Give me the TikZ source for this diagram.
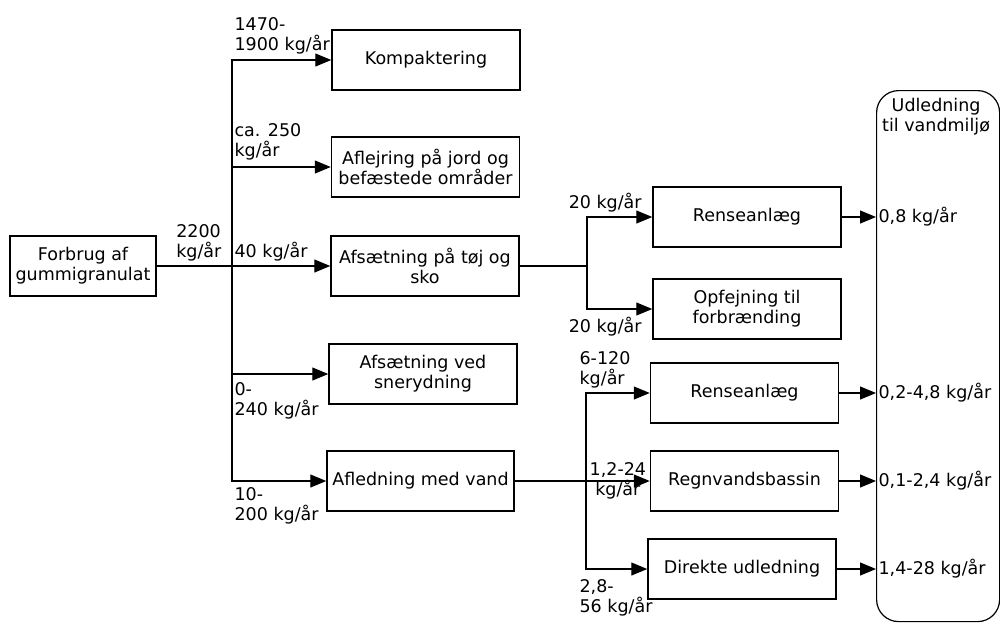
\documentclass[tikz,border=0pt]{standalone}
\usepackage{fontspec}
\setmainfont{DejaVu Sans}
\usetikzlibrary{arrows.meta, calc}

\begin{document}
\begin{tikzpicture}[x=1pt, y=-1pt,
  font=\fontsize{17.5}{20}\selectfont,
  box/.style={draw, line width=1.5pt, minimum width=188pt, minimum height=60pt, align=center, inner sep=2pt},
  line/.style={line width=1.2pt},
  flow/.style={line width=1.2pt, -{Triangle[length=16pt, width=13pt]}},
  lbl/.style={align=left, inner sep=2pt}]
\useasboundingbox (0,0) rectangle (1000,622);

% boxes
\node[box, minimum width=146pt] (forbrug) at (83,266) {Forbrug af\\gummigranulat};
\node[box] (komp) at (426,60) {Kompaktering};
\node[box] (aflej) at (425.5,167) {Aflejring på jord og\\befæstede områder};
\node[box] (toej) at (425,266) {Afsætning på tøj og\\sko};
\node[box] (sne) at (423,374) {Afsætning ved\\snerydning};
\node[box, minimum width=187pt] (afled) at (420.5,481) {Afledning med vand};
\node[box] (rense1) at (747,217) {Renseanlæg};
\node[box] (opfej) at (747,309) {Opfejning til\\forbrænding};
\node[box] (rense2) at (744.5,393) {Renseanlæg};
\node[box] (regn) at (744.5,481) {Regnvandsbassin};
\node[box] (direkte) at (742,569) {Direkte udledning};

% recipient
\node[draw, line width=1.2pt, rounded corners=22pt, minimum width=123pt, minimum height=531pt, anchor=north west] (udl) at (876,90) {};
\node[align=center, anchor=north, inner sep=0pt] (udltxt) at ($(udl.north)+(-2,8)$) {Udledning\\til vandmiljø};

% branch points
\coordinate (s1) at (232,266);
\coordinate (s2) at (587,266);
\coordinate (s3) at (586,481);

% first split
\draw[line] (forbrug) -- (s1) node[lbl, pos=1, anchor=south east, xshift=-8pt, yshift=2pt] {2200\\kg/år};
\draw[flow] (s1) |- (komp) node[lbl, pos=0.5, anchor=south west, yshift=3pt] {1470-\\1900 kg/år};
\draw[flow] (s1) |- (aflej) node[lbl, pos=0.5, anchor=south west, yshift=4pt] {ca. 250\\kg/år};
\draw[flow] (s1) -- (toej) node[lbl, pos=0, anchor=south west, yshift=2pt] {40 kg/år};
\draw[flow] (s1) |- (sne) node[lbl, pos=0.5, anchor=north west, yshift=-6pt] {0-\\240 kg/år};
\draw[flow] (s1) |- (afled) node[lbl, pos=0.5, anchor=north west, yshift=-4pt] {10-\\200 kg/år};

% clothes and shoes
\draw[line] (toej) -- (s2);
\draw[flow] (s2) |- (rense1) node[lbl, pos=1, anchor=south east, xshift=-8pt, yshift=2pt] {20 kg/år};
\draw[flow] (s2) |- (opfej) node[lbl, pos=1, anchor=north east, xshift=-8pt, yshift=-6pt] {20 kg/år};

% water
\draw[line] (afled) -- (s3);
\draw[flow] (s3) |- (rense2) node[lbl, pos=0.5, anchor=south west, xshift=-9pt, yshift=2pt] {6-120\\kg/år};
\draw[flow] (s3) -- (regn) node[midway, align=center, inner sep=0pt] {1,2-24\\kg/år};
\draw[flow] (s3) |- (direkte) node[lbl, pos=0.5, anchor=north west, xshift=-9pt, yshift=-8pt] {2,8-\\56 kg/år};

% outlets
\draw[flow] (rense1) -- (rense1 -| udl.west) node[right, inner sep=2pt] {0,8 kg/år};
\draw[flow] (rense2) -- (rense2 -| udl.west) node[right, inner sep=2pt] {0,2-4,8 kg/år};
\draw[flow] (regn) -- (regn -| udl.west) node[right, inner sep=2pt] {0,1-2,4 kg/år};
\draw[flow] (direkte) -- (direkte -| udl.west) node[right, inner sep=2pt] {1,4-28 kg/år};
\end{tikzpicture}
\end{document}
